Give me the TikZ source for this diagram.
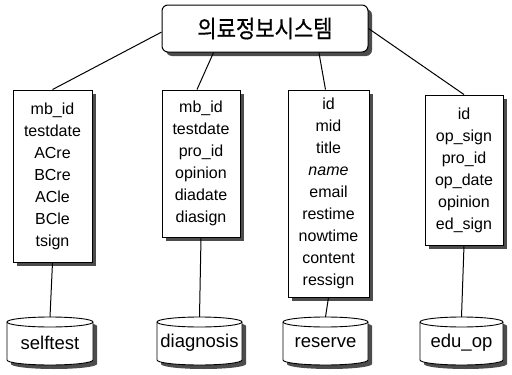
\documentclass[tikz,border=0pt]{standalone}
\usepackage{fontspec}
\usepackage{graphicx}
\setmainfont{Liberation Sans}
\newfontfamily\krfont[FakeBold=0.5]{Noto Sans CJK KR}
\usetikzlibrary{shadows}
\tikzset{
  boxshadow/.style={drop shadow={shadow xshift=4pt, shadow yshift=-4pt, opacity=1, fill=black!70}},
  topbox/.style={draw, line width=1pt, fill=white, rounded corners=6pt, inner sep=0pt,
    minimum width=206pt, minimum height=47pt, font=\fontsize{21}{25}\selectfont, boxshadow},
  fieldbox/.style={draw, line width=0.9pt, fill=white, inner sep=0pt, align=center,
    font=\fontsize{16}{22}\selectfont, boxshadow},
  cyltext/.style={inner sep=0pt, font=\fontsize{18.5}{22}\selectfont},
  cylline/.style={draw, line width=0.9pt, fill=white},
  cylshadow/.style={fill=black!70},
  link/.style={draw, line width=1pt}
}
\newcommand{\dbcyl}[4]{%
  \pgfmathsetmacro\cylc{(#2+#3)/2}%
  \pgfmathsetmacro\cylr{(#3-#2)/2}%
  \fill[cylshadow] (#2+4,326) -- (#2+4,364) arc[start angle=180, end angle=360, x radius=\cylr pt, y radius=5pt]
     -- (#3+4,326) arc[start angle=0, end angle=180, x radius=\cylr pt, y radius=5pt] -- cycle;
  \path[cylline] (#2,322) -- (#2,360) arc[start angle=180, end angle=360, x radius=\cylr pt, y radius=5pt]
     -- (#3,322) arc[start angle=0, end angle=180, x radius=\cylr pt, y radius=5pt] -- cycle;
  \draw[line width=0.9pt] (#2,322) arc[start angle=180, end angle=360, x radius=\cylr pt, y radius=5pt];
  \node[cyltext] (#1) at (\cylc,343) {#4};
  \coordinate (#1top) at (\cylc,317);
}
\begin{document}
\begin{tikzpicture}[x=1pt,y=-1pt]
\useasboundingbox (0,0) rectangle (512,375);

\node[topbox] (top) at (265,28.5) {\scalebox{1}[1.15]{\krfont 의료정보시스템}};

\node[fieldbox, minimum width=79pt, minimum height=172pt] (f1) at (52.5,176)
  {mb\_id\\testdate\\ACre\\BCre\\ACle\\BCle\\tsign};
\node[fieldbox, minimum width=78pt, minimum height=147pt] (f2) at (201,163.5)
  {mb\_id\\testdate\\pro\_id\\opinion\\diadate\\diasign};
\node[fieldbox, minimum width=81pt, minimum height=207pt] (f3) at (328.5,193.5)
  {id\\mid\\title\\\textit{name}\\email\\restime\\nowtime\\content\\ressign};
\node[fieldbox, minimum width=78pt, minimum height=150pt] (f4) at (464,170)
  {id\\op\_sign\\pro\_id\\op\_date\\opinion\\ed\_sign};

\dbcyl{c1}{7}{93}{selftest}
\dbcyl{c2}{157}{242}{diagnosis}
\dbcyl{c3}{283}{368}{reserve}
\dbcyl{c4}{420}{503}{edu\_op}

\draw[link] (top.182) -- (f1.north);
\draw[link] (top.205) -- ([xshift=-4pt]f2.north);
\draw[link] (top.336) -- ([xshift=-3pt]f3.north);
\draw[link] (top.east) -- (f4.north);

\draw[link] (f1.south) -- (c1top);
\draw[link] (f2.south) -- (c2top);
\draw[link] (f3.south) -- (c3top);
\draw[link] (f4.south) -- (c4top);
\end{tikzpicture}
\end{document}
